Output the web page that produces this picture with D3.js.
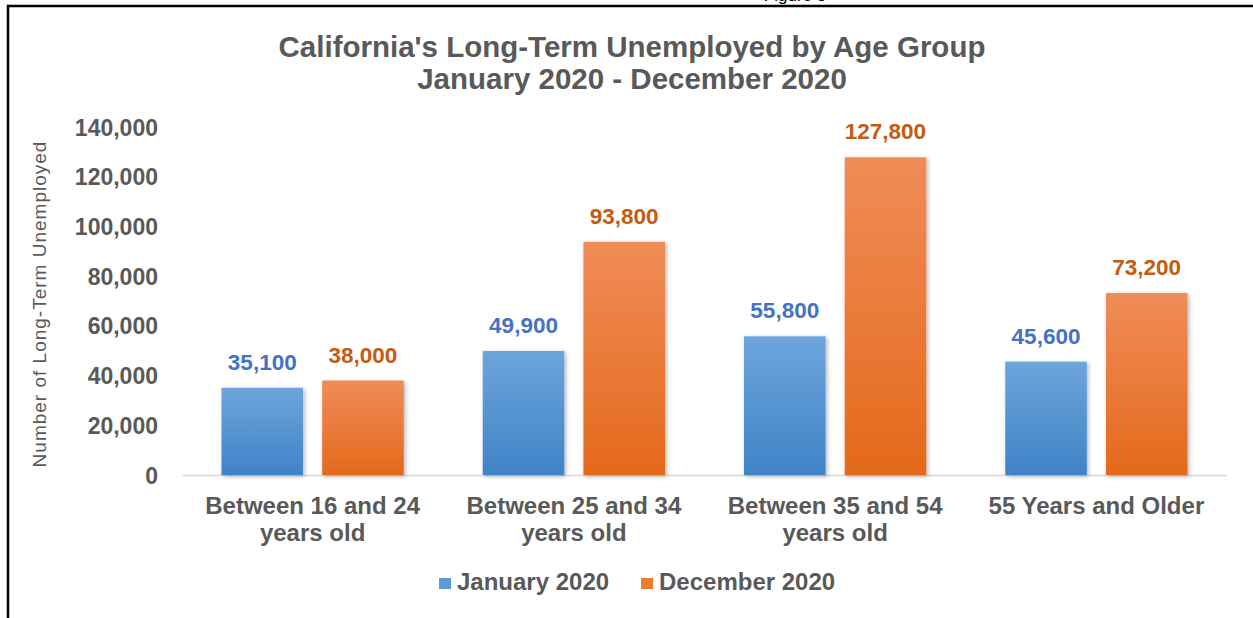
<!DOCTYPE html>
<html>
<head>
<meta charset="utf-8">
<script src="https://cdn.jsdelivr.net/npm/d3@7"></script>
<style>
  html, body { margin: 0; padding: 0; background: #fff; }
  svg { display: block; }
</style>
</head>
<body>
<svg id="chart" width="1253" height="618"></svg>
<script>
// Age groups (two-line labels) and long-term unemployed counts
const categories = [
  ["Between 16 and 24", "years old"],
  ["Between 25 and 34", "years old"],
  ["Between 35 and 54", "years old"],
  ["55 Years and Older"]
];
const seriesNames = ["January 2020", "December 2020"];
const january2020 = [35100, 49900, 55800, 45600];
const december2020 = [38000, 93800, 127800, 73200];
const yTicks = [0, 20000, 40000, 60000, 80000, 100000, 120000, 140000];

const svg = d3.select("#chart");
const W = 1253, H = 618;
const margin = { left: 182, right: 26, top: 127, bottom: 143 };
const font = "'Liberation Sans', Arial, sans-serif";
const grey = "#595959";

// Gradients and shadow for bars
const defs = svg.append("defs");
const grads = [
  { id: "gBlue", top: "#6DA5DC", bottom: "#3F83C7" },
  { id: "gOrange", top: "#F08C58", bottom: "#E4691B" }
];
grads.forEach(g => {
  const lg = defs.append("linearGradient").attr("id", g.id)
    .attr("x1", 0).attr("y1", 0).attr("x2", 0).attr("y2", 1);
  lg.append("stop").attr("offset", "0%").attr("stop-color", g.top);
  lg.append("stop").attr("offset", "100%").attr("stop-color", g.bottom);
});
const f = defs.append("filter").attr("id", "shadow")
  .attr("x", "-20%").attr("y", "-10%").attr("width", "140%").attr("height", "130%");
f.append("feDropShadow").attr("dx", 1.5).attr("dy", 1.5).attr("stdDeviation", 2)
  .attr("flood-color", "#000").attr("flood-opacity", 0.3);

// Page frame and caption above it
svg.append("text").attr("x", 795).attr("y", 1).attr("text-anchor", "middle")
  .attr("font-family", font).attr("font-size", 17).attr("fill", "#000")
  .text("Figure 3");
svg.append("rect").attr("x", 8).attr("y", 6).attr("width", W).attr("height", H)
  .attr("fill", "none").attr("stroke", "#000").attr("stroke-width", 2.5);

const x0 = d3.scaleBand().domain(d3.range(categories.length))
  .range([margin.left, W - margin.right]).paddingInner(0).paddingOuter(0);
const x1 = d3.scaleBand().domain([0, 1])
  .range([39.5, x0.bandwidth() - 39.5]).paddingInner(0.19).paddingOuter(0);
const y = d3.scaleLinear().domain([0, 140000]).range([H - margin.bottom, margin.top]);

// Title
const title = svg.append("text").attr("text-anchor", "middle")
  .attr("font-family", font).attr("font-weight", "bold").attr("font-size", 29.5)
  .attr("fill", grey);
title.append("tspan").attr("x", 632).attr("y", 57).text("California's Long-Term Unemployed by Age Group");
title.append("tspan").attr("x", 632).attr("y", 89).text("January 2020 - December 2020");

// Y axis
const yAxis = d3.axisLeft(y).tickValues(yTicks).tickSize(0).tickPadding(0)
  .tickFormat(d3.format(","));
const yg = svg.append("g").attr("transform", `translate(158,0)`).call(yAxis);
yg.select(".domain").remove();
yg.selectAll("text").attr("font-family", font).attr("font-weight", "bold")
  .attr("font-size", 23).attr("fill", grey).attr("dy", "0.35em");

svg.append("text")
  .attr("transform", `translate(46,${(y(0) + y(140000)) / 2 + 3}) rotate(-90)`)
  .attr("text-anchor", "middle").attr("font-family", font).attr("font-size", 19)
  .attr("letter-spacing", 1).attr("fill", grey)
  .text("Number of Long-Term  Unemployed");

// Baseline
svg.append("line").attr("x1", margin.left).attr("x2", W - margin.right)
  .attr("y1", y(0) + 0.5).attr("y2", y(0) + 0.5)
  .attr("stroke", "#d9d9d9").attr("stroke-width", 1.5);

// Bars and value labels
const series = [january2020, december2020];
const fills = ["url(#gBlue)", "url(#gOrange)"];
const labelColors = ["#4472C4", "#C55A11"];
series.forEach((vals, si) => {
  const g = svg.append("g");
  g.selectAll("rect").data(vals).join("rect")
    .attr("x", (d, i) => x0(i) + x1(si))
    .attr("y", d => y(d))
    .attr("width", x1.bandwidth())
    .attr("height", d => y(0) - y(d))
    .attr("fill", fills[si])
    .attr("filter", "url(#shadow)");
  g.selectAll("text").data(vals).join("text")
    .attr("x", (d, i) => x0(i) + x1(si) + x1.bandwidth() / 2)
    .attr("y", d => y(d) - 18)
    .attr("text-anchor", "middle")
    .attr("font-family", font).attr("font-weight", "bold").attr("font-size", 22.5)
    .attr("fill", labelColors[si])
    .text(d => d3.format(",")(d));
});

// Category labels
categories.forEach((lines, i) => {
  const t = svg.append("text").attr("text-anchor", "middle")
    .attr("font-family", font).attr("font-weight", "bold").attr("font-size", 24)
    .attr("fill", grey);
  lines.forEach((ln, k) => {
    t.append("tspan").attr("x", x0(i) + x0.bandwidth() / 2)
      .attr("y", 514 + k * 26.5).text(ln);
  });
});

// Legend
const legend = [
  { name: seriesNames[0], color: "#5B9BD5", x: 439 },
  { name: seriesNames[1], color: "#ED7D31", x: 641 }
];
legend.forEach(l => {
  svg.append("rect").attr("x", l.x).attr("y", 578).attr("width", 12).attr("height", 11)
    .attr("fill", l.color);
  svg.append("text").attr("x", l.x + 18).attr("y", 590)
    .attr("font-family", font).attr("font-weight", "bold").attr("font-size", 24)
    .attr("fill", grey).text(l.name);
});
</script>
</body>
</html>
